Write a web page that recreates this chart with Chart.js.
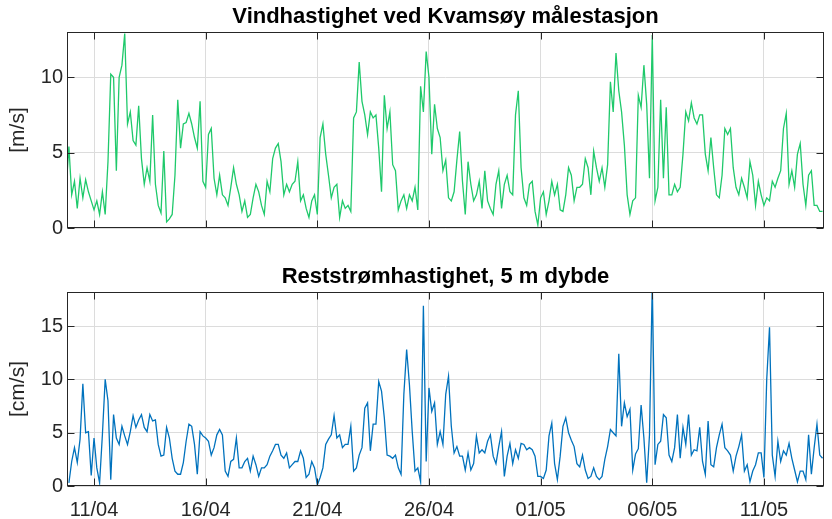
<!DOCTYPE html>
<html>
<head>
<meta charset="utf-8">
<script src="https://cdn.jsdelivr.net/npm/chart.js@4.4.1/dist/chart.umd.min.js"></script>
<style>
  html, body { margin: 0; padding: 0; background: #fff; }
  #wrap { position: relative; width: 832px; height: 519px; }
  .panel { position: absolute; left: 0; width: 832px; }
  #windBox { top: 0; height: 260px; }
  #currentBox { top: 260px; height: 259px; }
</style>
</head>
<body>
<div id="wrap">
  <div class="panel" id="windBox"><canvas id="windChart" width="832" height="260"></canvas></div>
  <div class="panel" id="currentBox"><canvas id="currentChart" width="832" height="259"></canvas></div>
</div>
<script>
"use strict";
// time axis: days after 01/04, one sample every 3 hours from 09/04 18:00
const startDay = 8.75;
const stepDay = 0.125;

const dateTicks = [10, 15, 20, 25, 30, 35, 40];
const dateLabels = ["11/04", "16/04", "21/04", "26/04", "01/05", "06/05", "11/05"];
const windTicks = [0, 5, 10];
const currentTicks = [0, 5, 10, 15];

// wind speed [m/s]
const windSpeed = [
  2.6, 5.4, 2.2, 3.1, 1.3, 3.3, 2.0, 3.2, 2.4, 1.8,
  1.2, 1.8, 0.9, 2.4, 0.9, 4.4, 10.2, 10.0, 3.8, 10.0,
  10.8, 12.9, 6.9, 7.7, 5.8, 5.5, 8.1, 4.6, 2.9, 4.0,
  3.1, 7.5, 2.9, 1.5, 1.0, 5.1, 0.4, 0.6, 0.9, 3.5,
  8.5, 5.3, 6.9, 7.0, 7.6, 6.9, 6.0, 5.3, 8.4, 3.1,
  2.7, 6.2, 6.6, 3.3, 2.2, 3.5, 2.2, 2.0, 1.5, 2.7,
  4.0, 2.9, 2.2, 1.1, 1.8, 0.7, 0.9, 2.0, 2.9, 2.4,
  1.5, 0.9, 3.1, 2.4, 4.6, 5.3, 5.6, 4.4, 2.2, 2.9,
  2.4, 2.9, 3.1, 4.4, 1.8, 2.2, 1.3, 0.7, 1.8, 2.2,
  0.9, 6.0, 6.9, 4.9, 3.5, 2.0, 2.7, 2.9, 0.7, 1.8,
  1.3, 1.5, 1.1, 7.3, 7.7, 11.0, 8.4, 7.5, 6.2, 7.7,
  7.3, 7.5, 5.3, 2.4, 8.8, 6.6, 7.7, 4.2, 3.8, 1.2,
  1.8, 2.2, 1.3, 2.2, 1.8, 2.7, 1.2, 9.4, 7.7, 11.7,
  10.0, 4.9, 8.2, 6.6, 6.0, 3.8, 4.5, 2.0, 1.8, 2.4,
  4.5, 6.4, 3.1, 0.9, 4.4, 2.9, 1.8, 2.2, 3.1, 1.3,
  3.8, 1.8, 1.3, 0.9, 2.9, 3.8, 1.3, 2.9, 3.5, 2.4,
  2.2, 7.5, 9.1, 4.0, 2.0, 1.5, 2.9, 3.1, 1.1, 0.2,
  2.0, 2.4, 0.9, 1.8, 3.1, 2.2, 2.9, 1.2, 1.1, 2.2,
  4.0, 3.5, 1.8, 2.7, 2.7, 2.9, 4.6, 4.0, 2.2, 5.1,
  4.0, 3.1, 4.0, 2.7, 4.2, 9.7, 7.7, 11.6, 9.1, 7.7,
  5.5, 2.2, 0.9, 1.8, 2.0, 8.8, 8.0, 10.8, 8.2, 3.3,
  12.8, 1.8, 2.7, 8.5, 3.3, 8.0, 2.2, 2.2, 2.9, 2.4,
  2.7, 4.9, 7.7, 7.1, 8.3, 7.3, 6.9, 7.5, 7.5, 4.9,
  3.8, 6.0, 4.0, 2.2, 2.0, 3.5, 6.6, 6.2, 6.6, 4.0,
  2.7, 2.2, 3.3, 2.7, 2.0, 4.4, 3.5, 1.5, 3.1, 2.2,
  1.5, 2.0, 1.8, 3.1, 2.7, 3.3, 3.8, 6.6, 7.6, 2.9,
  3.8, 2.7, 4.9, 5.6, 2.9, 1.5, 3.5, 3.8, 1.5, 1.5,
  1.1, 1.1,
];

// residual current speed at 5 m depth [cm/s]
const currentSpeed = [
  null, 0.3, 2.3, 3.6, 2.2, 4.4, 9.6, 5.0, 5.1, 1.0,
  4.5, 1.7, 0.3, 4.8, 10.0, 8.0, 0.6, 6.7, 4.5, 3.9,
  5.6, 4.7, 3.9, 5.1, 6.6, 5.5, 6.2, 6.7, 5.5, 5.1,
  6.7, 6.1, 6.2, 3.9, 2.8, 2.9, 5.5, 4.5, 2.6, 1.4,
  1.1, 1.1, 2.2, 4.2, 5.8, 5.6, 3.9, 1.1, 5.1, 4.7,
  4.5, 4.2, 2.9, 3.6, 4.8, 5.3, 4.8, 1.4, 0.9, 2.3,
  2.5, 4.5, 1.7, 1.7, 2.3, 2.6, 1.4, 2.8, 2.0, 0.9,
  1.7, 1.7, 2.0, 2.8, 3.3, 3.9, 3.9, 2.9, 2.6, 3.1,
  1.7, 2.0, 2.3, 2.3, 3.3, 2.6, 0.8, 1.1, 2.3, 1.7,
  0.1, 0.8, 1.7, 3.9, 4.4, 4.8, 6.6, 4.5, 4.8, 3.6,
  3.9, 3.9, 5.6, 1.4, 1.7, 2.9, 3.6, 7.3, 7.8, 3.3,
  5.8, 5.8, 9.8, 8.9, 6.4, 2.9, 2.8, 2.6, 2.9, 1.7,
  1.1, 8.6, 12.8, 9.5, 5.1, 1.4, 1.7, 0.4, 16.9, 2.3,
  9.2, 7.0, 7.8, 3.9, 5.1, 3.9, 8.6, 10.3, 5.6, 3.1,
  3.7, 2.8, 2.8, 1.5, 3.1, 1.5, 2.1, 4.7, 3.1, 3.4,
  3.1, 4.2, 4.8, 2.8, 2.1, 3.7, 5.1, 0.9, 2.8, 4.0,
  2.1, 3.4, 2.6, 4.0, 3.9, 3.4, 3.6, 3.4, 2.8, 0.9,
  0.9, 0.7, 1.5, 4.7, 5.9, 2.1, 0.6, 2.8, 5.6, 6.4,
  5.0, 4.3, 3.7, 2.1, 1.8, 2.9, 1.5, 0.7, 0.9, 1.7,
  0.9, 0.6, 0.9, 2.5, 3.7, 5.3, 5.0, 4.7, 12.4, 5.6,
  7.8, 6.5, 7.2, 1.5, 3.0, 3.5, 7.6, 4.5, 0.3, 4.8,
  19.0, 2.0, 3.9, 4.2, 6.7, 6.4, 2.9, 2.3, 3.6, 6.7,
  2.6, 5.5, 3.9, 6.7, 2.9, 3.4, 3.3, 5.5, 2.3, 1.1,
  6.1, 2.0, 1.8, 3.6, 4.8, 5.8, 3.6, 3.3, 2.9, 1.4,
  2.8, 3.7, 4.8, 1.4, 2.0, 0.4, 1.4, 2.0, 3.1, 3.1,
  0.8, 10.0, 14.9, 2.9, 0.9, 4.2, 2.3, 3.3, 2.9, 4.0,
  2.6, 1.5, 0.4, 1.4, 1.4, 0.6, 4.8, 1.1, 3.6, 5.8,
  2.9, 2.6,
];

const fontFamily = '"Liberation Sans", Arial, Helvetica, sans-serif';

const toPoints = (values) =>
  values.map((v, i) => ({ x: startDay + i * stepDay, y: v }));

// MATLAB-like box with inward tick marks
const boxPlugin = {
  id: "box",
  afterDraw(chart) {
    const { ctx, chartArea: a, scales } = chart;
    const left = Math.round(a.left) + 0.5;
    const right = Math.round(a.right) - 0.5;
    const top = Math.round(a.top) + 0.5;
    const bottom = Math.round(a.bottom) - 0.5;
    ctx.save();
    ctx.strokeStyle = "#262626";
    ctx.lineWidth = 1;
    ctx.beginPath();
    scales.x.ticks.forEach((t) => {
      const px = Math.round(scales.x.getPixelForValue(t.value)) + 0.5;
      ctx.moveTo(px, top);
      ctx.lineTo(px, top + 7);
      ctx.moveTo(px, bottom);
      ctx.lineTo(px, bottom - 7);
    });
    scales.y.ticks.forEach((t) => {
      const py = Math.round(scales.y.getPixelForValue(t.value)) + 0.5;
      ctx.moveTo(left, py);
      ctx.lineTo(left + 7, py);
      ctx.moveTo(right, py);
      ctx.lineTo(right - 7, py);
    });
    ctx.stroke();
    ctx.strokeRect(left, top, right - left, bottom - top);
    ctx.restore();
  },
};

const makeChart = (id, title, yLabel, values, color, yMax, yTicks, showDates) =>
  new Chart(document.getElementById(id), {
    type: "line",
    data: {
      datasets: [
        {
          data: toPoints(values),
          borderColor: color,
          borderWidth: 1.3,
          pointRadius: 0,
          tension: 0,
        },
      ],
    },
    options: {
      responsive: false,
      animation: false,
      events: [],
      layout: { padding: { left: 0, right: 8, top: 0, bottom: 0 } },
      plugins: {
        legend: { display: false },
        tooltip: { enabled: false },
        title: {
          display: true,
          fullSize: false,
          text: title,
          color: "#000",
          font: { family: fontFamily, size: 22, weight: "bold", lineHeight: 1.2 },
          padding: { top: 4, bottom: 1.6 },
        },
      },
      scales: {
        x: {
          type: "linear",
          min: 8.79,
          max: 42.69,
          afterBuildTicks: (s) => {
            s.ticks = dateTicks.map((v) => ({ value: v }));
          },
          afterFit: (s) => {
            s.height = showDates ? 33 : 32;
          },
          grid: { color: "#dcdcdc", drawTicks: false },
          border: { display: false },
          ticks: {
            display: showDates,
            padding: 12,
            color: "#262626",
            font: { family: fontFamily, size: 20 },
            callback: (v) => {
              const k = dateTicks.indexOf(v);
              return k >= 0 ? dateLabels[k] : "";
            },
          },
        },
        y: {
          min: 0,
          max: yMax,
          afterBuildTicks: (s) => {
            s.ticks = yTicks.map((v) => ({ value: v }));
          },
          afterFit: (s) => {
            s.width = 67;
          },
          grid: { color: "#dcdcdc", drawTicks: false },
          border: { display: false },
          ticks: {
            padding: 4,
            color: "#262626",
            font: { family: fontFamily, size: 20 },
          },
          title: {
            display: true,
            text: yLabel,
            color: "#262626",
            font: { family: fontFamily, size: 21, lineHeight: 1.2 },
            padding: { top: 6, bottom: 0 },
          },
        },
      },
    },
    plugins: [boxPlugin],
  });

makeChart("windChart", "Vindhastighet ved Kvamsøy målestasjon", "[m/s]",
  windSpeed, "#1fc96b", 13, windTicks, false);
makeChart("currentChart", "Reststrømhastighet, 5 m dybde", "[cm/s]",
  currentSpeed, "#0072bd", 18.2, currentTicks, true);
</script>
</body>
</html>
